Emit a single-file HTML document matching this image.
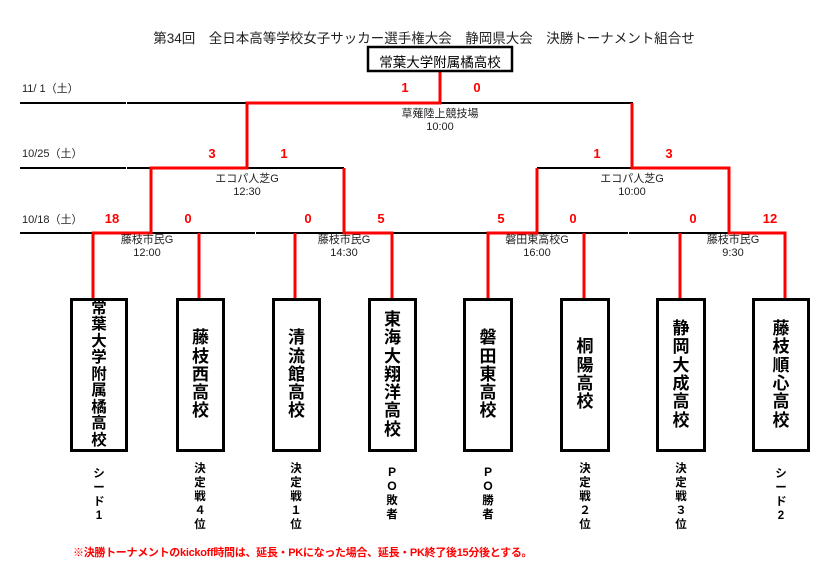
<!DOCTYPE html>
<html><head><meta charset="utf-8"><style>
body{margin:0;width:838px;height:581px;background:#fff;position:relative;overflow:hidden;font-family:"Liberation Sans","Noto Sans CJK JP",sans-serif;}
.a{position:absolute;}
.box{position:absolute;top:298px;border:3px solid #000;box-sizing:border-box;height:154px;display:flex;align-items:center;justify-content:center;font-weight:bold;font-size:17px;line-height:18.3px;text-align:center;}
.lab{position:absolute;top:462px;width:40px;text-align:center;font-weight:bold;font-size:11.5px;line-height:14px;}
.sc{position:absolute;color:#f00;font-weight:bold;font-size:13px;transform:translateX(-50%);}
.v{position:absolute;font-size:11px;line-height:13px;text-align:center;transform:translateX(-50%);color:#222;white-space:nowrap;}
.d{position:absolute;left:22px;font-size:11px;color:#222;}
</style></head><body>
<svg class="a" style="left:0;top:0" width="838" height="581">
<g stroke="#000" stroke-width="2" fill="none">
<line x1="20" y1="103" x2="126" y2="103"/><line x1="127" y1="103" x2="247" y2="103"/>
<line x1="440" y1="103" x2="633" y2="103"/>
<line x1="20" y1="168" x2="126" y2="168"/><line x1="127" y1="168" x2="151" y2="168"/>
<line x1="247" y1="168" x2="344" y2="168"/><line x1="537" y1="168" x2="632" y2="168"/>
<line x1="20" y1="233" x2="93" y2="233"/><line x1="151" y1="233" x2="255" y2="233"/><line x1="256" y1="233" x2="344" y2="233"/>
<line x1="392" y1="233" x2="488" y2="233"/><line x1="537" y1="233" x2="628" y2="233"/><line x1="629" y1="233" x2="729" y2="233"/>
</g>
<g stroke="#f00" stroke-width="3" fill="none">
<polyline points="440,71 440,103 247,103 247,168 151,168 151,233 93,233 93,298"/>
<line x1="199" y1="233" x2="199" y2="298"/>
<line x1="295" y1="233" x2="295" y2="298"/>
<polyline points="344,168 344,233 392,233 392,298"/>
<polyline points="632,103 632,168 729,168 729,233 785,233 785,298"/>
<polyline points="537,168 537,233 488,233 488,298"/>
<line x1="584" y1="233" x2="584" y2="298"/>
<line x1="680" y1="233" x2="680" y2="298"/>
</g>
<rect x="368" y="47" width="144" height="24" fill="none" stroke="#000" stroke-width="2.5"/>
</svg>
<div class="a" style="left:0;width:838px;top:27px;text-align:center;font-size:13.5px;color:#222;padding-left:10px;box-sizing:border-box">第34回　全日本高等学校女子サッカー選手権大会　静岡県大会　決勝トーナメント組合せ</div>
<div class="a" style="left:368px;width:144px;top:51px;text-align:center;font-size:13.5px">常葉大学附属橘高校</div>
<div class="d" style="top:80px">11/ 1（土）</div>
<div class="d" style="top:145px">10/25（土）</div>
<div class="d" style="top:211px">10/18（土）</div>
<div class="sc" style="left:405px;top:80px">1</div><div class="sc" style="left:477px;top:80px">0</div>
<div class="sc" style="left:212px;top:146px">3</div><div class="sc" style="left:284px;top:146px">1</div>
<div class="sc" style="left:597px;top:146px">1</div><div class="sc" style="left:669px;top:146px">3</div>
<div class="sc" style="left:112px;top:211px">18</div><div class="sc" style="left:188px;top:211px">0</div>
<div class="sc" style="left:308px;top:211px">0</div><div class="sc" style="left:381px;top:211px">5</div>
<div class="sc" style="left:501px;top:211px">5</div><div class="sc" style="left:573px;top:211px">0</div>
<div class="sc" style="left:693px;top:211px">0</div><div class="sc" style="left:770px;top:211px">12</div>
<div class="v" style="left:440px;top:108px">草薙陸上競技場<br>10:00</div>
<div class="v" style="left:247px;top:173px">エコパ人芝G<br>12:30</div>
<div class="v" style="left:632px;top:173px">エコパ人芝G<br>10:00</div>
<div class="v" style="left:147px;top:234px">藤枝市民G<br>12:00</div>
<div class="v" style="left:344px;top:234px">藤枝市民G<br>14:30</div>
<div class="v" style="left:537px;top:234px">磐田東高校G<br>16:00</div>
<div class="v" style="left:733px;top:234px">藤枝市民G<br>9:30</div>
<div class="box" style="left:70px;width:58px;font-size:15.5px;line-height:16.5px">常<br>葉<br>大<br>学<br>附<br>属<br>橘<br>高<br>校</div>
<div class="box" style="left:176px;width:49px">藤<br>枝<br>西<br>高<br>校</div>
<div class="box" style="left:272px;width:49px">清<br>流<br>館<br>高<br>校</div>
<div class="box" style="left:368px;width:49px">東<br>海<br>大<br>翔<br>洋<br>高<br>校</div>
<div class="box" style="left:463px;width:50px">磐<br>田<br>東<br>高<br>校</div>
<div class="box" style="left:560px;width:50px">桐<br>陽<br>高<br>校</div>
<div class="box" style="left:656px;width:50px">静<br>岡<br>大<br>成<br>高<br>校</div>
<div class="box" style="left:752px;width:58px">藤<br>枝<br>順<br>心<br>高<br>校</div>
<div class="lab" style="left:79px;top:467px">シ<br>ー<br>ド<br>1</div>
<div class="lab" style="left:180px">決<br>定<br>戦<br>４<br>位</div>
<div class="lab" style="left:276px">決<br>定<br>戦<br>１<br>位</div>
<div class="lab" style="left:372px;top:466px">Ｐ<br>Ｏ<br>敗<br>者</div>
<div class="lab" style="left:468px;top:466px">Ｐ<br>Ｏ<br>勝<br>者</div>
<div class="lab" style="left:565px">決<br>定<br>戦<br>２<br>位</div>
<div class="lab" style="left:661px">決<br>定<br>戦<br>３<br>位</div>
<div class="lab" style="left:761px;top:467px">シ<br>ー<br>ド<br>2</div>
<div class="a" style="left:73px;top:544px;color:#f00;font-weight:bold;font-size:11px;letter-spacing:-0.3px">※決勝トーナメントのkickoff時間は、延長・PKになった場合、延長・PK終了後15分後とする。</div>
</body></html>
